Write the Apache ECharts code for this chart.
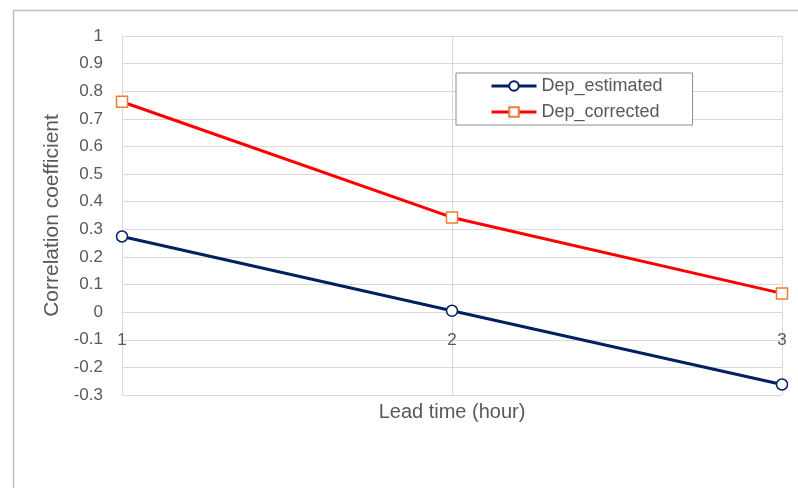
<!DOCTYPE html>
<html>
<head>
<meta charset="utf-8">
<script src="https://cdn.jsdelivr.net/npm/echarts@6/dist/echarts.min.js"></script>
<style>
html,body{margin:0;padding:0;background:#fff;}
#c{width:798px;height:488px;}
</style>
</head>
<body>
<div id="c"></div>
<script>
const leadTimes = [1, 2, 3];
const depEstimated = [0.274, 0.005, -0.262];
const depCorrected = [0.762, 0.343, 0.068];
const seriesNames = ['Dep_estimated', 'Dep_corrected'];
const xTitle = 'Lead time (hour)';
const yTitle = 'Correlation coefficient';

const FONT = '"Liberation Sans", Arial, sans-serif';
const chart = echarts.init(document.getElementById('c'));
const fmt = v => String(Math.round(v * 10) / 10);

const gridTop = 36, gridBottomPx = 395, yMin = -0.3, yMax = 1;
const zeroOffset = (gridBottomPx - gridTop) * (0 - yMin) / (yMax - yMin);

chart.setOption({
  animation: false,
  textStyle: { fontFamily: FONT },
  grid: { left: 122, right: 16, top: gridTop, bottom: 488 - gridBottomPx },
  graphic: [
    { type: 'rect', shape: { x: 13.5, y: 10.5, width: 800, height: 500 },
      style: { fill: 'none', stroke: '#bfbfbf', lineWidth: 1.5 }, silent: true },
    { type: 'text', x: 452, y: 412,
      style: { text: xTitle, fill: '#595959', font: '20px ' + FONT, align: 'center', verticalAlign: 'middle' }, silent: true }
  ],
  legend: {
    orient: 'vertical', left: 456, top: 73,
    padding: [4, 30, 4, 34], itemGap: 8,
    itemWidth: 45, itemHeight: 12,
    borderColor: '#8c8c8c', borderWidth: 1, backgroundColor: '#fff',
    lineStyle: { width: 3 },
    textStyle: { color: '#595959', fontSize: 18, fontFamily: FONT },
    data: seriesNames
  },
  xAxis: {
    type: 'value', min: 1, max: 3, interval: 1,
    offset: -zeroOffset,
    axisLine: { onZero: false, lineStyle: { color: '#d9d9d9' } },
    axisTick: { show: false },
    axisLabel: { color: '#595959', fontSize: 17, margin: 20, fontFamily: FONT },
    splitLine: { show: true, lineStyle: { color: '#d9d9d9', width: 1 } }
  },
  yAxis: {
    type: 'value', min: yMin, max: yMax, interval: 0.1,
    name: yTitle, nameLocation: 'middle', nameGap: 58,
    nameTextStyle: { color: '#595959', fontSize: 21, fontFamily: FONT },
    axisLine: { show: true, lineStyle: { color: '#d9d9d9' } },
    axisTick: { show: false },
    axisLabel: { color: '#595959', fontSize: 17, margin: 19, formatter: fmt, fontFamily: FONT },
    splitLine: { lineStyle: { color: '#d9d9d9', width: 1 } }
  },
  series: [
    {
      name: seriesNames[0], type: 'line',
      data: leadTimes.map((x, i) => [x, depEstimated[i]]),
      symbol: 'circle', symbolSize: 11,
      lineStyle: { color: '#002060', width: 3 },
      itemStyle: { color: '#fff', borderColor: '#002060', borderWidth: 1.5 },
      z: 3
    },
    {
      name: seriesNames[1], type: 'line',
      data: leadTimes.map((x, i) => [x, depCorrected[i]]),
      symbol: 'rect', symbolSize: 11,
      lineStyle: { color: '#ff0000', width: 3 },
      itemStyle: { color: '#fff', borderColor: '#ed7d31', borderWidth: 1.5 },
      z: 3
    }
  ]
});
</script>
</body>
</html>
